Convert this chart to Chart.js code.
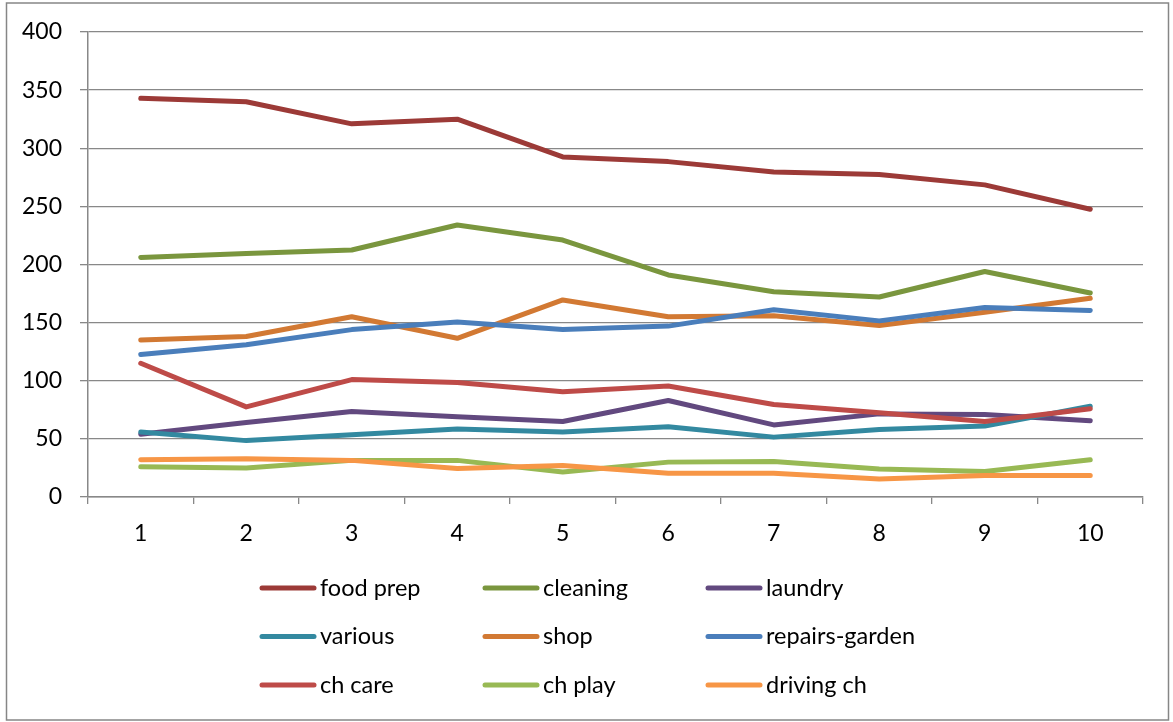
<!DOCTYPE html>
<html>
<head>
<meta charset="utf-8">
<title>Household time by decile</title>
<script src="https://cdn.jsdelivr.net/npm/chart.js@4/dist/chart.umd.min.js"></script>
<style>
  html, body { margin: 0; padding: 0; background: #fff; }
  #wrap { position: relative; width: 1173px; height: 722px; }
</style>
</head>
<body>
<div id="wrap"><canvas id="c" width="1173" height="722"></canvas></div>
<script>
// Categories along the x axis
const categories = ['1', '2', '3', '4', '5', '6', '7', '8', '9', '10'];

// Series values
const foodPrep      = [343, 340, 321, 325, 292.5, 288.5, 279.5, 277.5, 268.5, 247.5];
const cleaning      = [206, 209.5, 212.5, 234, 221, 191, 176.5, 172, 194, 175.5];
const laundry       = [54, 64, 73.5, 69, 65, 83, 62, 71.5, 71, 65.5];
const various       = [56, 48.5, 53.5, 58.5, 56, 60.5, 51.5, 58, 61, 78];
const shop          = [135, 138, 155, 136.5, 169.5, 155, 156, 147.5, 159, 171];
const repairsGarden = [122.5, 131, 144, 150.5, 144, 147, 161, 151.5, 163, 160.5];
const chCare        = [115, 77.5, 101, 98.5, 90.5, 95.5, 79.5, 72.5, 65, 76];
const chPlay        = [26, 25, 31.5, 31.5, 21.5, 30, 30.5, 24, 22, 32];
const drivingCh     = [32, 33, 31.5, 24.5, 27, 20.5, 20.5, 15.5, 18.5, 18.5];

// Series names and colours
const seriesNames  = ['food prep', 'cleaning', 'laundry', 'various', 'shop', 'repairs-garden', 'ch care', 'ch play', 'driving ch'];
const seriesValues = [foodPrep, cleaning, laundry, various, shop, repairsGarden, chCare, chPlay, drivingCh];
const seriesColors = ['#9C3A37', '#7A963E', '#62497F', '#3389A0', '#D27933', '#4A7EBB', '#BE4B48', '#98B954', '#F79646'];

// Y axis range
const yMin = 0, yMax = 400, yStep = 50;

const FONT = 'Lato, "Open Sans", sans-serif';
const GRID = '#888888';

const datasets = seriesNames.map((name, i) => ({
  label: name,
  data: seriesValues[i],
  borderColor: seriesColors[i],
  backgroundColor: seriesColors[i],
  borderWidth: 5,
  borderCapStyle: 'round',
  borderJoinStyle: 'round',
  pointRadius: 0,
  pointHoverRadius: 0,
  tension: 0,
  fill: false,
  order: seriesNames.length - i   // later series drawn on top
}));

// Outer frame round the whole chart
const framePlugin = {
  id: 'frame',
  beforeDraw(chart) {
    const ctx = chart.ctx;
    ctx.save();
    ctx.fillStyle = '#ffffff';
    ctx.fillRect(0, 0, chart.width, chart.height);
    ctx.strokeStyle = '#868686';
    ctx.lineWidth = 1.5;
    ctx.strokeRect(6.5, 3, 1162, 717);
    ctx.restore();
  }
};

// Three-column legend beneath the plot
const gridLegendPlugin = {
  id: 'gridLegend',
  afterDraw(chart) {
    const ctx = chart.ctx;
    const cols = 3;
    const x0 = 260, colW = 223, y0 = 588, rowH = 48.5, sampleW = 56, gap = 4;
    ctx.save();
    ctx.font = '23.5px ' + FONT;
    ctx.textBaseline = 'middle';
    ctx.textAlign = 'left';
    chart.data.datasets.forEach((ds, i) => {
      const col = i % cols, row = Math.floor(i / cols);
      const x = x0 + col * colW, y = y0 + row * rowH;
      ctx.strokeStyle = ds.borderColor;
      ctx.lineWidth = 5;
      ctx.lineCap = 'round';
      ctx.beginPath();
      ctx.moveTo(x + 2, y);
      ctx.lineTo(x + sampleW - 2, y);
      ctx.stroke();
      ctx.fillStyle = '#000000';
      ctx.fillText(ds.label, x + sampleW + gap, y);
    });
    ctx.restore();
  }
};

new Chart(document.getElementById('c'), {
  type: 'line',
  data: { labels: categories, datasets },
  plugins: [framePlugin, gridLegendPlugin],
  options: {
    responsive: false,
    animation: false,
    devicePixelRatio: 1,
    layout: { padding: { left: 0, right: 30, top: 32, bottom: 0 } },
    plugins: {
      legend: { display: false },
      tooltip: { enabled: false },
      title: { display: false }
    },
    scales: {
      x: {
        type: 'category',
        offset: true,
        afterFit(scale) { scale.height = 225; },
        grid: {
          offset: true,
          drawOnChartArea: false,
          drawTicks: true,
          tickLength: 7,
          color: GRID,
          lineWidth: 1.3
        },
        border: { display: true, color: GRID, width: 1.5 },
        ticks: {
          color: '#000',
          font: { family: FONT, size: 23 },
          padding: 16,
          maxRotation: 0,
          autoSkip: false
        }
      },
      y: {
        min: yMin,
        max: yMax,
        afterFit(scale) { scale.width = 88; },
        grid: {
          drawTicks: true,
          tickLength: 8,
          color: GRID,
          lineWidth: 1.3
        },
        border: { display: true, color: GRID, width: 1.5 },
        ticks: {
          stepSize: yStep,
          color: '#000',
          font: { family: FONT, size: 23 },
          padding: 18
        }
      }
    }
  }
});
</script>
</body>
</html>
